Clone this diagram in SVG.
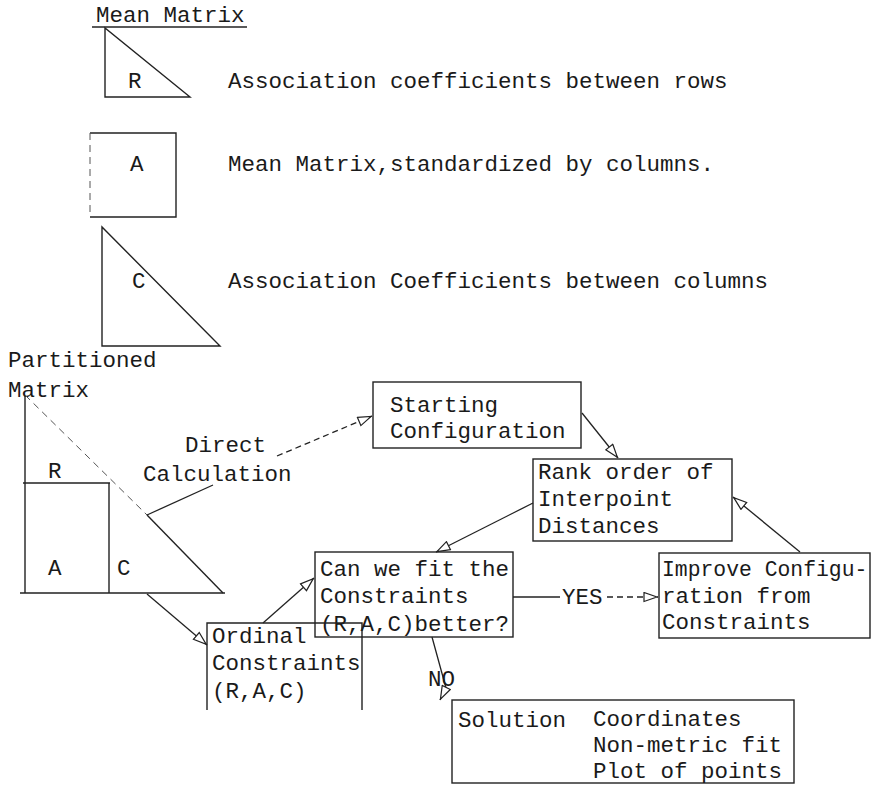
<svg xmlns="http://www.w3.org/2000/svg" width="876" height="786" viewBox="0 0 876 786">
<defs>
<marker id="arr" viewBox="0 0 15 11" refX="15" refY="5.5" markerWidth="15" markerHeight="11" markerUnits="userSpaceOnUse" orient="auto">
<path d="M1,1 L14,5.5 L1,10 Z" fill="#fff" stroke="#222" stroke-width="1.2"/>
</marker>
<style>
text{font-family:"Liberation Mono","DejaVu Sans Mono",monospace;font-size:22.5px;fill:#1a1a1a}
.ln{fill:none;stroke:#222;stroke-width:1.4}
.fa{fill:none;stroke:#555;stroke-width:1;stroke-dasharray:7 5}
.bx{fill:none;stroke:#222;stroke-width:1.4}
.cn{fill:none;stroke:#222;stroke-width:1.3}
.dsh{stroke-dasharray:6 4}
</style>
</defs>
<rect width="876" height="786" fill="#fff"/>

<g id="mean-matrix-title">
<text x="96" y="22">Mean Matrix</text>
<line class="ln" x1="92" y1="27" x2="247" y2="27"/>
</g>

<g id="tri-R">
<path class="ln" d="M105,28 L105,97 L190,97 Z"/>
<text x="128" y="88">R</text>
<text x="228" y="88">Association coefficients between rows</text>
</g>

<g id="rect-A">
<path class="ln" d="M90,133 L176,133 L176,217 L90,217"/>
<line class="fa" x1="90" y1="133" x2="90" y2="217"/>
<text x="130" y="171">A</text>
<text x="228" y="171">Mean Matrix,standardized by columns.</text>
</g>

<g id="tri-C">
<path class="ln" d="M102,227 L102,346 L220,346 Z"/>
<text x="132" y="288">C</text>
<text x="228" y="288">Association Coefficients between columns</text>
</g>

<g id="partitioned-matrix">
<text x="8" y="367">Partitioned</text>
<text x="8" y="397">Matrix</text>
<path class="ln" d="M25,395 L25,593 M20,593 L225,593 M23,483 L110,483 M109,483 L109,593"/>
<line class="fa" x1="25" y1="395" x2="147" y2="515"/>
<line class="ln" x1="147" y1="515" x2="223" y2="593"/>
<text x="48" y="478">R</text>
<text x="48" y="575">A</text>
<text x="117" y="575">C</text>
</g>

<g id="direct-calculation">
<text x="185" y="452">Direct</text>
<text x="143" y="481">Calculation</text>
</g>

<g id="starting">
<rect class="bx" x="373" y="382" width="208" height="66"/>
<text x="390" y="412">Starting</text>
<text x="390" y="438">Configuration</text>
</g>

<g id="rank">
<rect class="bx" x="533" y="459" width="199" height="82"/>
<text x="538" y="479">Rank order of</text>
<text x="538" y="506">Interpoint</text>
<text x="538" y="533">Distances</text>
</g>

<g id="can-fit">
<rect class="bx" x="315" y="552" width="198" height="85"/>
<text x="320" y="576">Can we fit the</text>
<text x="320" y="603">Constraints</text>
<text x="320" y="631">(R,A,C)better?</text>
</g>

<g id="ordinal">
<path class="bx" d="M207,710 L207,623 L362,623 L362,710"/>
<text x="212" y="643">Ordinal</text>
<text x="212" y="670">Constraints</text>
<text x="212" y="698">(R,A,C)</text>
</g>

<g id="improve">
<rect class="bx" x="659" y="553" width="211" height="85"/>
<text x="662" y="576" style="font-size:21.4px">Improve Configu-</text>
<text x="662" y="603">ration from</text>
<text x="662" y="629">Constraints</text>
</g>

<g id="solution">
<rect class="bx" x="452" y="700" width="342" height="83"/>
<text x="458" y="727">Solution</text>
<text x="593" y="726">Coordinates</text>
<text x="593" y="752">Non-metric fit</text>
<text x="593" y="778">Plot of points</text>
</g>

<g id="connectors">
<line class="cn" x1="147" y1="515" x2="213" y2="485"/>
<line class="cn dsh" x1="277" y1="456" x2="372" y2="416" marker-end="url(#arr)"/>
<line class="cn" x1="582" y1="413" x2="618" y2="458" marker-end="url(#arr)"/>
<line class="cn" x1="533" y1="503" x2="436" y2="552" marker-end="url(#arr)"/>
<line class="cn" x1="147" y1="594" x2="207" y2="645" marker-end="url(#arr)"/>
<line class="cn" x1="263" y1="623" x2="314" y2="578" marker-end="url(#arr)"/>
<line class="cn" x1="513" y1="597" x2="560" y2="597"/>
<text x="562" y="604">YES</text>
<line class="cn dsh" x1="607" y1="597" x2="658" y2="597" marker-end="url(#arr)"/>
<line class="cn" x1="800" y1="552" x2="733" y2="497" marker-end="url(#arr)"/>
<path class="cn" d="M432,637 L446,688 L440,700" marker-end="url(#arr)"/>
<text x="428" y="686">NO</text>
</g>
</svg>
